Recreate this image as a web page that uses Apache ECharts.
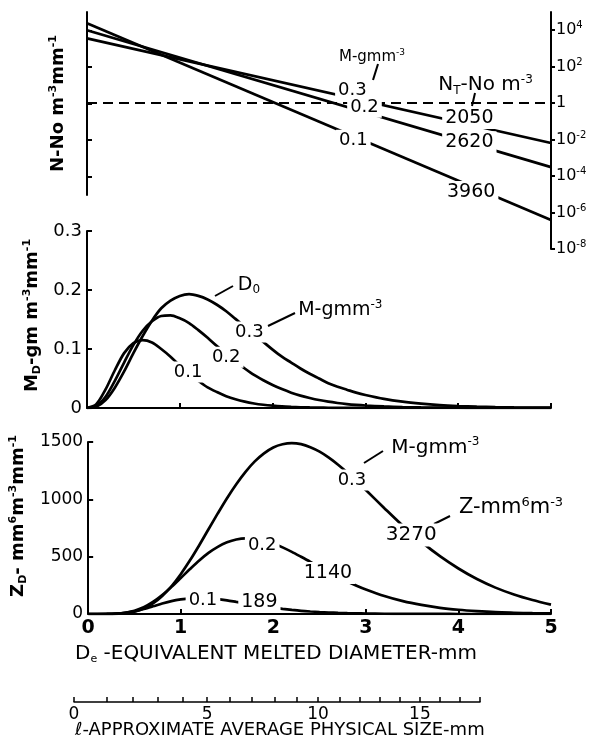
<!DOCTYPE html>
<html>
<head>
<meta charset="utf-8">
<script src="https://cdn.jsdelivr.net/npm/echarts@6/dist/echarts.min.js"></script>
<style>
  html, body { margin: 0; padding: 0; background: #fff; }
  #chart { width: 597px; height: 745px; }
</style>
</head>
<body>
<div id="chart"></div>
<script>
// Snow size spectra for three water contents M (g m^-3)
const massContents = ['0.1', '0.2', '0.3'];

// N(D): exponential spectra, values at D = 0 and D = 5 mm (No. m^-3 mm^-1)
const nDiam = [0, 5];
const nM01 = [2.4e4, 3.9e-7];
const nM02 = [1.0e4, 3.1e-4];
const nM03 = [3.6e3, 6.5e-3];
const totalNumber = ['3960', '2620', '2050'];   // N_T, No. m^-3

// Melted diameter grid (mm) for the M_D and Z_D curves
const diam = [0, 0.1, 0.2, 0.3, 0.4, 0.5, 0.6, 0.7, 0.8, 0.9, 1.0, 1.1, 1.2, 1.3, 1.4, 1.5,
              1.6, 1.7, 1.8, 1.9, 2.0, 2.1, 2.2, 2.3, 2.4, 2.5, 2.6, 2.7, 2.8, 2.9, 3.0,
              3.2, 3.4, 3.6, 3.8, 4.0, 4.2, 4.4, 4.6, 4.8, 5.0];

// Mass spectra M_D (g m^-3 mm^-1)
const mdM01 = [0, 0.0065, 0.0315, 0.064, 0.093, 0.110, 0.115, 0.111, 0.100, 0.087, 0.072, 0.058, 0.046,
               0.035, 0.027, 0.020, 0.0147, 0.0107, 0.0077, 0.0055, 0.0039, 0.0027, 0.0019, 0.0013, 0.0009,
               0.0006, 0.0004, 0.0003, 0.0002, 0.0001, 0.0001,
               0, 0, 0, 0, 0, 0, 0, 0, 0, 0];
const mdM02 = [0, 0.0034, 0.019, 0.046, 0.077, 0.107, 0.131, 0.147, 0.156, 0.157, 0.152, 0.144, 0.132,
               0.119, 0.105, 0.092, 0.079, 0.067, 0.056, 0.047, 0.039, 0.032, 0.026, 0.021, 0.017,
               0.0135, 0.0107, 0.0085, 0.0067, 0.0053, 0.0042,
               0.0026, 0.0016, 0.001, 0.0006, 0.0004, 0.0002, 0.0001, 0, 0, 0];
const mdM03 = [0, 0.0022, 0.0134, 0.0345, 0.062, 0.093, 0.122, 0.148, 0.169, 0.182, 0.190, 0.193, 0.190,
               0.184, 0.175, 0.164, 0.151, 0.138, 0.125, 0.112, 0.099, 0.087, 0.077, 0.067, 0.058,
               0.050, 0.042, 0.036, 0.031, 0.026, 0.022,
               0.0154, 0.0107, 0.0074, 0.005, 0.0034, 0.0023, 0.0015, 0.001, 0.0007, 0.0005];

// Reflectivity spectra Z_D (mm^6 m^-3 mm^-1)
const zdM01 = [0, 0, 0.4, 3, 10.5, 24, 44, 67, 91, 112, 127, 137, 140,
               137, 130, 119, 106, 93, 79, 67, 55, 45, 36, 28, 22,
               17, 13, 10, 7.6, 5.7, 4.2,
               2.3, 1.2, 0.6, 0.3, 0.2, 0.1, 0, 0, 0, 0];
const zdM02 = [0, 0, 0.3, 2.6, 10, 28, 59, 105, 165, 237, 314, 392, 467,
               533, 586, 625, 650, 660, 656, 640, 615, 581, 542, 499, 455,
               409, 366, 324, 284, 247, 214,
               157, 112, 79, 54, 37, 25, 16, 11, 7, 5];
const zdM03 = [0, 0, 0.2, 1.7, 7, 21, 48, 92, 157, 242, 347, 468, 600,
               739, 877, 1010, 1132, 1240, 1331, 1401, 1452, 1480, 1490, 1481, 1455,
               1416, 1364, 1302, 1233, 1159, 1081,
               923, 769, 629, 504, 397, 305, 230, 170, 122, 82];
const totalZ = ['189', '1140', '3270'];   // Z, mm^6 m^-3

// Tick labels
const expTicks = [-8, -6, -4, -2, 0, 2, 4];          // powers of ten, right scale
const expTicksLeft = [-4, -2, 0, 2, 4];
const diamTicks = [0, 1, 2, 3, 4, 5];
// Physical size scale l (mm): tick values and their place along the scale bar (0..1)
const sizeTicks = [0, 1, 2, 3, 4, 5, 6, 7, 8, 9, 10, 11, 12, 13, 14, 15, 16, 17, 18];
const sizeTickPlace = [0, 0.081, 0.145, 0.207, 0.268, 0.328, 0.384, 0.438, 0.495, 0.549,
                       0.601, 0.655, 0.704, 0.754, 0.803, 0.852, 0.901, 0.951, 1];
const sizeLabels = [0, 5, 10, 15];

const FONT = 'DejaVu Sans';
const INK = '#000';

// rich text styles (base text, superscript, subscript) for a given size
function richOf(size, bold) {
  const w = bold ? 'bold' : 'normal';
  const s = Math.round(size * 0.62);
  return {
    t:   { fontFamily: FONT, fontSize: size, fontWeight: w, color: INK, opacity: 1, lineHeight: size + 3 },
    sup: { fontFamily: FONT, fontSize: s, fontWeight: w, color: INK, opacity: 1, lineHeight: s, verticalAlign: 'top' },
    sub: { fontFamily: FONT, fontSize: s, fontWeight: w, color: INK, opacity: 1, lineHeight: s, verticalAlign: 'bottom' }
  };
}

function pairs(xs, ys) { return xs.map((x, i) => [x, ys[i]]); }
function logPairs(xs, ns) { return xs.map((x, i) => [x, Math.log10(ns[i])]); }

function curve(name, data, xi, yi, extra) {
  return Object.assign({
    type: 'line', name, data, xAxisIndex: xi, yAxisIndex: yi,
    symbol: 'none', smooth: 0.3, silent: true, z: 2,
    lineStyle: { color: INK, width: 2.7 }
  }, extra || {});
}

// A text tag pinned to data coordinates; plain tags sit in a white box that breaks the curve
function tag(x, y, text, size, note) {
  const sz = size || 19;
  return {
    value: [x, y],
    label: {
      show: true, position: note ? 'right' : 'inside', distance: 0,
      formatter: note ? text : '{t|' + text + '}',
      rich: richOf(sz),
      color: INK, opacity: 1, textBorderWidth: 0,
      backgroundColor: note ? 'transparent' : '#fff',
      padding: note ? 0 : [0, 3]
    }
  };
}
function tags(xi, yi, data) {
  return {
    type: 'scatter', xAxisIndex: xi, yAxisIndex: yi, data,
    symbolSize: 1, itemStyle: { color: 'rgba(0,0,0,0)', opacity: 1 }, silent: true, z: 6,
    label: { show: true, fontFamily: FONT, color: INK, opacity: 1 }
  };
}

const axisLine = { show: true, onZero: false, lineStyle: { color: INK, width: 2 } };
const hiddenX = (gi) => ({ type: 'value', gridIndex: gi, min: 0, max: 5, show: false });
const tickStyle = { color: INK, width: 2 };

function expLabel(v) {
  return v === 0 ? '{t|1}' : '{t|10}{sup|' + v + '}';
}

const option = {
  backgroundColor: '#fff',
  animation: false,
  grid: [
    { left: 87, top: 12, width: 464, height: 237 },   // N(D), right scale
    { left: 87, top: 12, width: 464, height: 183 },   // N(D), left scale
    { left: 87, top: 231, width: 464, height: 177 },  // M_D
    { left: 87, top: 442, width: 464, height: 172 },  // Z_D
    { left: 74, top: 700, width: 406, height: 2 }     // physical size scale
  ],
  xAxis: [
    hiddenX(0),
    hiddenX(1),
    {
      type: 'value', gridIndex: 2, min: 0, max: 5, interval: 1,
      axisLine, splitLine: { show: false },
      axisTick: { inside: true, length: 5, lineStyle: tickStyle },
      axisLabel: { show: false }
    },
    {
      type: 'value', gridIndex: 3, min: 0, max: 5, interval: 1,
      axisLine, splitLine: { show: false },
      axisTick: { inside: true, length: 5, lineStyle: tickStyle },
      axisLabel: { fontFamily: FONT, fontSize: 19, fontWeight: 'bold', color: INK, margin: 5,
                   customValues: diamTicks }
    },
    {
      type: 'value', gridIndex: 4, min: 0, max: 1,
      axisLine: { show: true, onZero: false, lineStyle: { color: INK, width: 1.5 } },
      splitLine: { show: false },
      axisTick: { inside: true, length: 5, customValues: sizeTickPlace, lineStyle: { color: INK, width: 1.5 } },
      axisLabel: {
        fontFamily: FONT, fontSize: 17, color: INK, margin: 4,
        customValues: sizeLabels.map(l => sizeTickPlace[sizeTicks.indexOf(l)]),
        formatter: (v) => {
          let best = 0;
          sizeTickPlace.forEach((p, i) => { if (Math.abs(p - v) < Math.abs(sizeTickPlace[best] - v)) best = i; });
          return String(sizeTicks[best]);
        }
      }
    }
  ],
  yAxis: [
    {
      type: 'value', gridIndex: 0, position: 'right', min: -8, max: 5,
      axisLine, splitLine: { show: false },
      axisTick: { length: 4, customValues: expTicks, lineStyle: tickStyle },
      axisLabel: { customValues: expTicks, formatter: expLabel, rich: richOf(16), margin: 5 }
    },
    {
      type: 'value', gridIndex: 1, position: 'left', min: -5, max: 5,
      axisLine, splitLine: { show: false },
      axisTick: { inside: true, length: 5, customValues: expTicksLeft, lineStyle: tickStyle },
      axisLabel: { show: false },
      name: '{t|N-No m}{sup|-3}{t|mm}{sup|-1}', nameLocation: 'middle', nameRotate: 90, nameGap: 18,
      nameTextStyle: { rich: richOf(18, true) }
    },
    {
      type: 'value', gridIndex: 2, min: 0, max: 0.3, interval: 0.1,
      axisLine, splitLine: { show: false },
      axisTick: { inside: true, length: 5, lineStyle: tickStyle },
      axisLabel: { fontFamily: FONT, fontSize: 18, color: INK, margin: 5,
                   formatter: (v) => (v === 0 ? '0' : v.toFixed(1)) },
      name: '{t|M}{sub|D}{t|-gm m}{sup|-3}{t|mm}{sup|-1}', nameLocation: 'middle', nameRotate: 90, nameGap: 29,
      nameTextStyle: { rich: richOf(18, true), padding: [0, 0, 0, 8] }
    },
    {
      type: 'value', gridIndex: 3, min: 0, max: 1500, interval: 500,
      axisLine, splitLine: { show: false },
      axisTick: { inside: true, length: 5, lineStyle: tickStyle },
      axisLabel: { fontFamily: FONT, fontSize: 17, color: INK, margin: 5, formatter: (v) => String(v) },
      name: '{t|Z}{sub|D}{t|- mm}{sup|6}{t|m}{sup|-3}{t|mm}{sup|-1}', nameLocation: 'middle', nameRotate: 90, nameGap: 50,
      nameTextStyle: { rich: richOf(18, true), padding: [0, 0, 0, 24] }
    },
    { type: 'value', gridIndex: 4, min: 0, max: 1, show: false }
  ],
  series: [
    // N(D)
    curve('N 0.3', logPairs(nDiam, nM03), 0, 0, {
      smooth: false,
      markLine: {
        silent: true, symbol: 'none', label: { show: false },
        lineStyle: { color: INK, width: 2, type: [10, 6] },
        data: [{ yAxis: 0 }]
      }
    }),
    curve('N 0.2', logPairs(nDiam, nM02), 0, 0, { smooth: false }),
    curve('N 0.1', logPairs(nDiam, nM01), 0, 0, { smooth: false }),
    tags(0, 0, [
      tag(2.86, 0.71, massContents[2], 18),
      tag(2.99, -0.22, massContents[1], 18),
      tag(2.87, -2.03, massContents[0], 18),
      tag(4.12, -0.82, totalNumber[2]),
      tag(4.12, -2.14, totalNumber[1]),
      tag(4.14, -4.88, totalNumber[0]),
      tag(2.71, 2.52, '{t|M-gmm}{sup|-3}', 15, true),
      tag(3.78, 0.99, '{t|N}{sub|T}{t|-No m}{sup|-3}', 20, true)
    ]),
    // M_D
    curve('MD 0.1', pairs(diam, mdM01), 2, 2),
    curve('MD 0.2', pairs(diam, mdM02), 2, 2),
    curve('MD 0.3', pairs(diam, mdM03), 2, 2),
    tags(2, 2, [
      tag(1.09, 0.061, massContents[0], 18),
      tag(1.50, 0.086, massContents[1], 18),
      tag(1.75, 0.129, massContents[2], 18),
      tag(1.62, 0.208, '{t|D}{sub|0}', 19, true),
      tag(2.27, 0.166, '{t|M-gmm}{sup|-3}', 19, true)
    ]),
    // Z_D
    curve('ZD 0.1', pairs(diam, zdM01), 3, 3),
    curve('ZD 0.2', pairs(diam, zdM02), 3, 3),
    curve('ZD 0.3', pairs(diam, zdM03), 3, 3),
    tags(3, 3, [
      tag(1.24, 122, massContents[0], 18),
      tag(1.85, 105, totalZ[0]),
      tag(1.88, 602, massContents[1], 18),
      tag(2.59, 358, totalZ[1]),
      tag(2.85, 1169, massContents[2], 18),
      tag(3.49, 689, totalZ[2], 20),
      tag(3.27, 1449, '{t|M-gmm}{sup|-3}', 20, true),
      tag(4.00, 925, '{t|Z-mm}{sup|6}{t|m}{sup|-3}', 21, true)
    ])
  ],
  graphic: [
    // pointer strokes from the unit notes to their curves
    { type: 'line', shape: { x1: 378, y1: 64, x2: 373, y2: 80 }, style: { stroke: INK, lineWidth: 2 }, silent: true },
    { type: 'line', shape: { x1: 475, y1: 93, x2: 472, y2: 106 }, style: { stroke: INK, lineWidth: 2 }, silent: true },
    { type: 'line', shape: { x1: 233, y1: 286, x2: 215, y2: 296 }, style: { stroke: INK, lineWidth: 2 }, silent: true },
    { type: 'line', shape: { x1: 295, y1: 313, x2: 268, y2: 326 }, style: { stroke: INK, lineWidth: 2 }, silent: true },
    { type: 'line', shape: { x1: 383, y1: 451, x2: 364, y2: 463 }, style: { stroke: INK, lineWidth: 2 }, silent: true },
    { type: 'line', shape: { x1: 450, y1: 516, x2: 434, y2: 524 }, style: { stroke: INK, lineWidth: 2 }, silent: true },
    {
      type: 'text', left: 75, top: 644, silent: true,
      style: {
        text: '{b|D}{s|e}{b| -EQUIVALENT MELTED DIAMETER-mm}',
        rich: {
          b: { fontFamily: FONT, fontSize: 20, fill: INK, lineHeight: 22 },
          s: { fontFamily: FONT, fontSize: 11, fill: INK, lineHeight: 11, verticalAlign: 'bottom' }
        }
      }
    },
    {
      type: 'text', left: 75, top: 721, silent: true,
      style: { text: 'ℓ-APPROXIMATE AVERAGE PHYSICAL SIZE-mm', font: '18px "DejaVu Sans"', fill: INK }
    }
  ]
};

const chart = echarts.init(document.getElementById('chart'), null, { renderer: 'canvas' });
chart.setOption(option);
</script>
</body>
</html>
